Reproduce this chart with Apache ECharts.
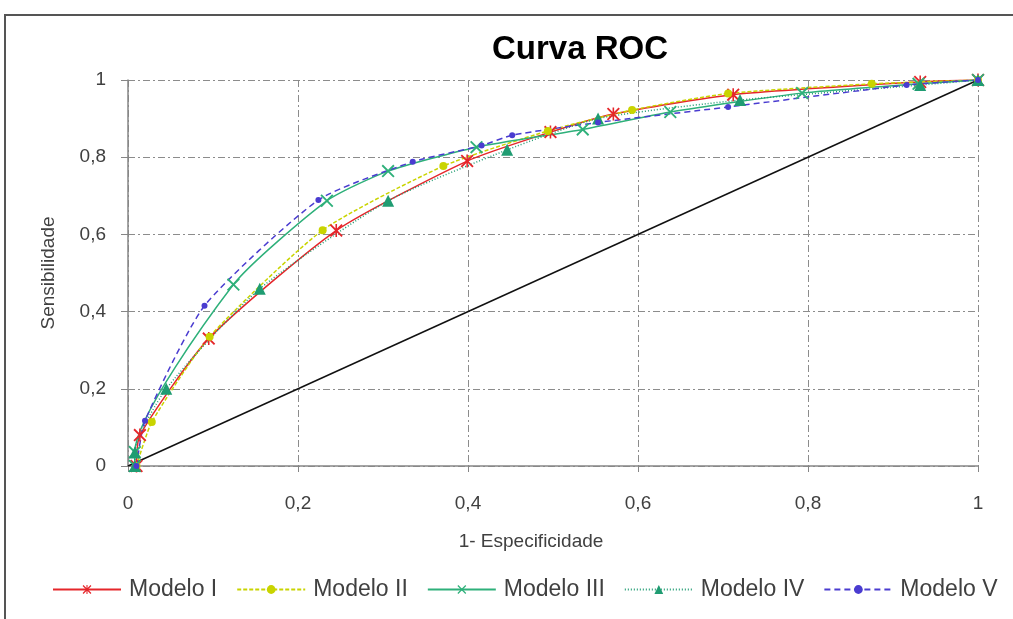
<!DOCTYPE html>
<html>
<head>
<meta charset="utf-8">
<script src="https://cdn.jsdelivr.net/npm/echarts@6/dist/echarts.min.js"></script>
<style>
html,body{margin:0;padding:0;background:#fff;}
#chart{width:1013px;height:619px;}
</style>
</head>
<body>
<div id="chart"></div>
<script>
// Data (x = 1 - especificidade, y = sensibilidade)
const seriesNames = ['Modelo I', 'Modelo II', 'Modelo III', 'Modelo IV', 'Modelo V'];
const modeloI = [[0.01,0],[0.014,0.08],[0.095,0.33],[0.245,0.61],[0.399,0.79],[0.497,0.865],[0.571,0.912],[0.712,0.962],[0.932,0.995],[1,1]];
const modeloII = [[0.01,0],[0.028,0.114],[0.096,0.335],[0.229,0.611],[0.371,0.777],[0.494,0.868],[0.593,0.922],[0.706,0.965],[0.875,0.99],[1,1]];
const modeloIII = [[0.008,0],[0.008,0.036],[0.124,0.47],[0.234,0.687],[0.306,0.764],[0.41,0.826],[0.535,0.872],[0.638,0.917],[0.793,0.966],[0.93,0.99],[1,1]];
const modeloIV = [[0.008,0],[0.008,0.035],[0.045,0.2],[0.155,0.459],[0.306,0.687],[0.446,0.819],[0.553,0.9],[0.72,0.948],[0.932,0.987],[1,1]];
const modeloV = [[0.01,0],[0.02,0.117],[0.09,0.415],[0.224,0.689],[0.335,0.788],[0.416,0.83],[0.452,0.857],[0.553,0.89],[0.706,0.93],[0.916,0.987],[1,1]];
const diagonal = [[0,0],[1,1]];
const tickValues = [0, 0.2, 0.4, 0.6, 0.8, 1];

const ASTERISK = 'path://M0,1 L1,0 L10,9 L9,10 Z M9,0 L10,1 L1,10 L0,9 Z M4.4,0 L5.6,0 L5.6,10 L4.4,10 Z';
const XMARK = 'path://M0,1 L1,0 L10,9 L9,10 Z M9,0 L10,1 L1,10 L0,9 Z';

const fmt = v => String(Math.round(v*10)/10).replace('.', ',');
const textColor = '#404040';
const gridLine = {show:true, lineStyle:{color:'#8c8c8c', width:1, type:[7,3,2,3]}};

function mk(name, data, color, lineType, symbol, size, width){
  return {
    name, type:'line', data,
    smooth:0.2,
    symbol, symbolSize:size, showSymbol:true,
    lineStyle:{color, width, type:lineType},
    itemStyle:{color},
    emphasis:{disabled:true},
    z: 3
  };
}

const chart = echarts.init(document.getElementById('chart'), null, {renderer:'canvas'});
chart.setOption({
  animation:false,
  backgroundColor:'#ffffff',
  title:{
    text:'Curva ROC', left:487, top:28,
    textStyle:{fontFamily:'Liberation Sans', fontWeight:'bold', fontSize:33, color:'#000'}
  },
  graphic:[{
    type:'rect', shape:{x:5, y:15, width:1030, height:640},
    style:{fill:null, stroke:'#555', lineWidth:2}, silent:true, z:-1
  }],
  grid:{left:128, right:35, top:80, bottom:153},
  legend:{
    data:seriesNames, left:52, top:578, padding:0,
    itemWidth:68, itemHeight:11, itemGap:19,
    textStyle:{fontFamily:'Liberation Sans', fontSize:23, color:textColor, padding:[0,0,0,3]}
  },
  xAxis:{
    type:'value', min:0, max:1, interval:0.2,
    name:'1- Especificidade', nameLocation:'middle', nameGap:66,
    nameTextStyle:{fontFamily:'Liberation Sans', fontSize:19, color:textColor, padding:[0,44,0,0]},
    axisLine:{show:true, onZero:false, lineStyle:{color:'#868686', width:1.5}},
    axisTick:{show:true, inside:false, length:6, lineStyle:{color:'#868686'}},
    axisLabel:{fontFamily:'Liberation Sans', fontSize:19, color:textColor, margin:28, formatter:fmt},
    splitLine:gridLine
  },
  yAxis:{
    type:'value', min:0, max:1, interval:0.2,
    name:'Sensibilidade', nameLocation:'middle', nameGap:70,
    nameTextStyle:{fontFamily:'Liberation Sans', fontSize:19, color:textColor},
    axisLine:{show:true, onZero:false, lineStyle:{color:'#868686', width:1.5}},
    axisTick:{show:true, inside:false, length:7, lineStyle:{color:'#868686'}},
    axisLabel:{fontFamily:'Liberation Sans', fontSize:19, color:textColor, margin:22, formatter:fmt},
    splitLine:gridLine
  },
  series:[
    {
      name:'diagonal', type:'line', data:diagonal, symbol:'none',
      lineStyle:{color:'#111', width:1.5}, emphasis:{disabled:true}, z:2
    },
    mk('Modelo I', modeloI, '#e5262b', 'solid', ASTERISK, 13, 1.5),
    mk('Modelo II', modeloII, '#c9d400', [4,2], 'circle', 8, 1.5),
    mk('Modelo III', modeloIII, '#2eb07a', 'solid', XMARK, 13, 1.5),
    mk('Modelo IV', modeloIV, '#1f9c72', [1,2], 'triangle', 12, 1.5),
    mk('Modelo V', modeloV, '#4a3cd0', [6,4], 'circle', 6, 1.5)
  ]
});
</script>
</body>
</html>
